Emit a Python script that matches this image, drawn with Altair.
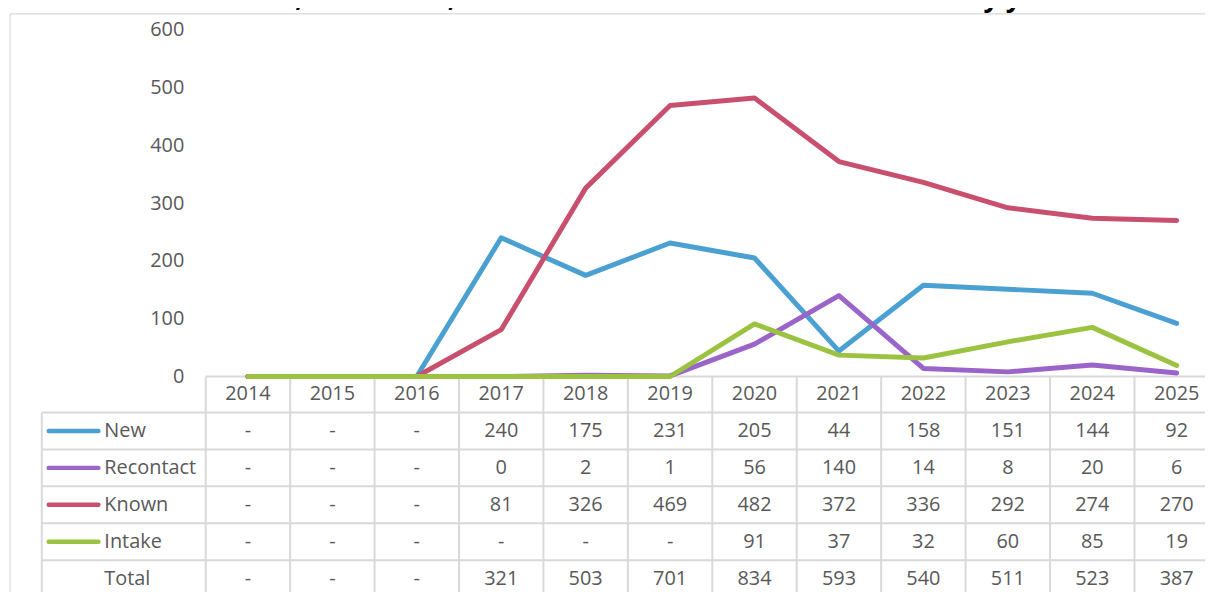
import altair as alt
import pandas as pd

# ---------------- data ----------------
TITLE = "1.D15. Number of new, re-contact, known and intake cases worked with by year"
years = [str(y) for y in range(2014, 2026)]
series = ["New", "Recontact", "Known", "Intake"]
colors = ["#4BA0D2", "#9B64C8", "#C8506E", "#9BC341"]

# values shown in the table ("-" = no value)
tbl_new = ["-", "-", "-", "240", "175", "231", "205", "44", "158", "151", "144", "92"]
tbl_recontact = ["-", "-", "-", "0", "2", "1", "56", "140", "14", "8", "20", "6"]
tbl_known = ["-", "-", "-", "81", "326", "469", "482", "372", "336", "292", "274", "270"]
tbl_intake = ["-", "-", "-", "-", "-", "-", "91", "37", "32", "60", "85", "19"]
tbl_total = ["-", "-", "-", "321", "503", "701", "834", "593", "540", "511", "523", "387"]

# values plotted (the chart draws "-" as 0)
line_new = [0, 0, 0, 240, 175, 231, 205, 44, 158, 151, 144, 92]
line_recontact = [0, 0, 0, 0, 2, 1, 56, 140, 14, 8, 20, 6]
line_known = [0, 0, 0, 81, 326, 469, 482, 372, 336, 292, 274, 270]
line_intake = [0, 0, 0, 0, 0, 0, 91, 37, 32, 60, 85, 19]

y_ticks = [0, 100, 200, 300, 400, 500, 600]
rows = ["Header", "New", "Recontact", "Known", "Intake", "Total"]

# ---------------- tables for the library ----------------
line_vals = {"New": line_new, "Recontact": line_recontact, "Known": line_known, "Intake": line_intake}
line_df = pd.DataFrame(
    [{"year": y, "series": s, "value": v} for s in series for y, v in zip(years, line_vals[s])]
)
tbl_vals = {"Header": years, "New": tbl_new, "Recontact": tbl_recontact,
            "Known": tbl_known, "Intake": tbl_intake, "Total": tbl_total}
cell_df = pd.DataFrame(
    [{"year": y, "row": r, "label": l} for r in rows for y, l in zip(years, tbl_vals[r])]
)
rowlab_df = pd.DataFrame({"row": rows[1:], "label": rows[1:]})
swatch_df = pd.DataFrame({"row": series, "series": series})
hline_df = pd.DataFrame({"row": rows[1:]})
vline_df = pd.DataFrame({"year": years})
one = pd.DataFrame({"a": [0]})

# ---------------- styling ----------------
FONT = "Open Sans"
TXT = "#595959"
GRID = "#D9D9D9"
FS = 20
COL_W = 85
X_END = COL_W * 12
PLOT_H = 349
ROW_TOP = 348
ROW_H = 37.2
BOTTOM = 570

color_scale = alt.Scale(domain=series, range=colors)
x_scale = alt.Scale(type="band", domain=years, range=[0, X_END], paddingInner=0, paddingOuter=0)
row_scale = alt.Scale(type="band", domain=rows, range=[ROW_TOP, ROW_TOP + ROW_H * 6],
                      paddingInner=0, paddingOuter=0)
y_axis = alt.Axis(values=y_ticks, domain=False, ticks=False, grid=False, labelFont=FONT,
                  labelFontSize=FS, labelColor=TXT, labelPadding=22, title=None)

x_mid = alt.X("year:N", scale=x_scale, axis=None, bandPosition=0.5)
y_row_mid = alt.Y("row:N", scale=row_scale, axis=None, bandPosition=0.5)

# lines (one layer per series so later series draw on top)
line_layers = []
for s in series:
    line_layers.append(
        alt.Chart(line_df).transform_filter(alt.datum.series == s)
        .mark_line(strokeWidth=5, strokeCap="round", strokeJoin="round")
        .encode(
            x=x_mid,
            y=alt.Y("value:Q", scale=alt.Scale(domain=[0, 600]), axis=y_axis),
            color=alt.Color("series:N", scale=color_scale, legend=None),
        )
    )
lines = alt.layer(*line_layers)

# table structure
frame_left = alt.Chart(one).mark_rule(color=GRID, strokeWidth=1.2).encode(
    x=alt.value(-197), y=alt.value(-16), y2=alt.value(BOTTOM))
frame_top = alt.Chart(one).mark_rule(color=GRID, strokeWidth=1.2).encode(
    x=alt.value(-197), x2=alt.value(X_END), y=alt.value(-16))
header_line = alt.Chart(one).mark_rule(color=GRID, strokeWidth=2).encode(
    x=alt.value(0), x2=alt.value(X_END), y=alt.value(PLOT_H))
hlines = alt.Chart(hline_df).mark_rule(color=GRID, strokeWidth=2).encode(
    x=alt.value(-165), x2=alt.value(X_END),
    y=alt.Y("row:N", scale=row_scale, axis=None, bandPosition=0))
vlines = alt.Chart(vline_df).mark_rule(color=GRID, strokeWidth=2).encode(
    x=alt.X("year:N", scale=x_scale, axis=None, bandPosition=0),
    y=alt.value(PLOT_H), y2=alt.value(BOTTOM))
left_line = alt.Chart(one).mark_rule(color=GRID, strokeWidth=2).encode(
    x=alt.value(-165), y=alt.value(ROW_TOP + ROW_H), y2=alt.value(BOTTOM))

cells = alt.Chart(cell_df).mark_text(font=FONT, fontSize=FS, color=TXT, baseline="middle").encode(
    x=x_mid, y=y_row_mid, text="label:N")
row_labels = alt.Chart(rowlab_df).mark_text(font=FONT, fontSize=FS, color=TXT, align="left",
                                            baseline="middle").encode(
    x=alt.value(-102), y=y_row_mid, text="label:N")
swatches = alt.Chart(swatch_df).mark_rule(strokeWidth=4.5, strokeCap="round").encode(
    x=alt.value(-158), x2=alt.value(-108), y=y_row_mid,
    color=alt.Color("series:N", scale=color_scale, legend=None))

title = alt.Chart(pd.DataFrame({"t": [TITLE]})).mark_text(
    font=FONT, fontSize=27, fontWeight="bold", color="#000000", align="left", baseline="alphabetic"
).encode(x=alt.value(-208), y=alt.value(-22.5), text="t:N")

chart = alt.layer(
    frame_left, frame_top, header_line, hlines, vlines, left_line,
    lines, cells, row_labels, swatches, title
).resolve_scale(y="independent").properties(
    width=1006, height=PLOT_H,
    padding={"left": 199, "top": 20, "right": 0, "bottom": 215},
    autosize=alt.AutoSizeParams(type="none"),
    background="white",
).configure_view(stroke=None)

chart.save("out.html", embed_options={"renderer": "svg", "actions": False})
